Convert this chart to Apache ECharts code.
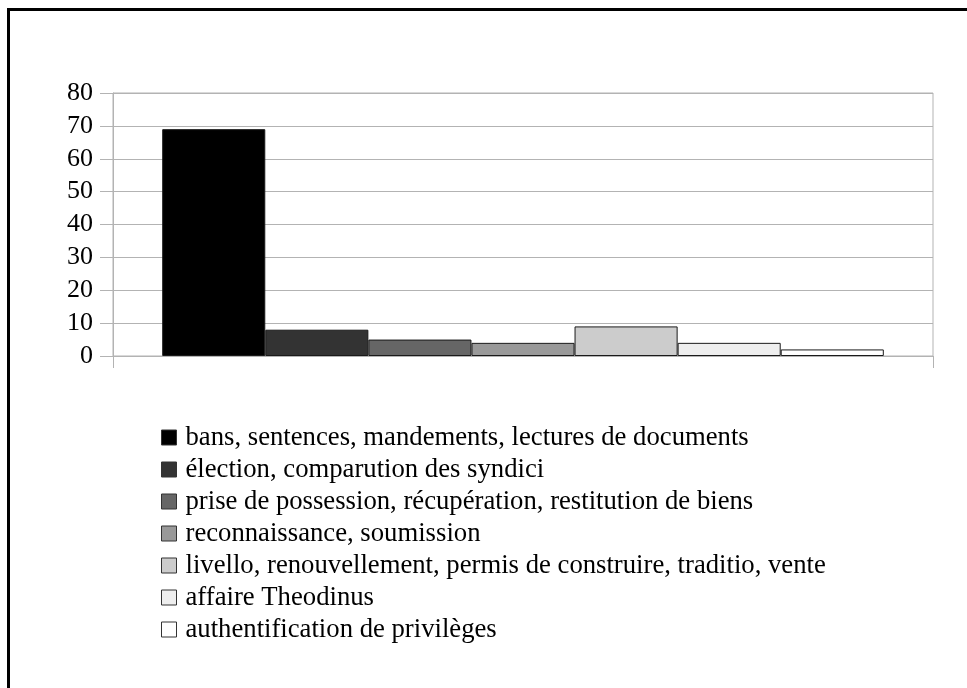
<!DOCTYPE html>
<html>
<head>
<meta charset="utf-8">
<script src="https://cdn.jsdelivr.net/npm/echarts@6/dist/echarts.min.js"></script>
<style>
  html, body { margin: 0; padding: 0; background: #fff; }
  #chart { width: 967px; height: 688px; }
</style>
</head>
<body>
<div id="chart"></div>
<script>
// Document types (one bar per type, single category group)
const seriesNames = [
  "bans, sentences, mandements, lectures de documents",
  "élection, comparution des syndici",
  "prise de possession, récupération, restitution de biens",
  "reconnaissance, soumission",
  "livello, renouvellement, permis de construire, traditio, vente",
  "affaire Theodinus",
  "authentification de privilèges"
];
const seriesValues = [69, 8, 5, 4, 9, 4, 2];
const seriesColors = ["#000000", "#333333", "#666666", "#999999", "#cccccc", "#eeeeee", "#ffffff"];
const categories = [""];
const yMin = 0, yMax = 80, yStep = 10;

const FONT = "'Liberation Serif', 'DejaVu Serif', serif";
const GRID_COLOR = "#b3b3b3";

const chart = echarts.init(document.getElementById("chart"), null, { renderer: "canvas" });

const series = seriesNames.map((name, i) => ({
  name: name,
  type: "bar",
  data: [seriesValues[i]],
  barGap: "0%",
  barCategoryGap: "12%",
  itemStyle: { color: seriesColors[i], borderColor: "#1a1a1a", borderWidth: 1 },
  emphasis: { disabled: true },
  animation: false
}));

chart.setOption({
  animation: false,
  backgroundColor: "#ffffff",
  grid: {
    left: 113, right: 34, top: 93, bottom: 332,
    show: true, borderColor: GRID_COLOR, borderWidth: 1, backgroundColor: "transparent"
  },
  xAxis: {
    type: "category",
    data: categories,
    boundaryGap: true,
    axisLine: { show: true, lineStyle: { color: GRID_COLOR, width: 1 } },
    axisTick: { show: true, length: 12, lineStyle: { color: GRID_COLOR } },
    axisLabel: { show: false },
    splitLine: { show: false }
  },
  yAxis: {
    type: "value",
    min: yMin, max: yMax, interval: yStep,
    axisLine: { show: true, lineStyle: { color: GRID_COLOR, width: 1 } },
    axisTick: { show: true, length: 13, lineStyle: { color: GRID_COLOR } },
    axisLabel: { color: "#000", fontFamily: FONT, fontSize: 26, margin: 20 },
    splitLine: { show: true, lineStyle: { color: GRID_COLOR, width: 1 } }
  },
  legend: {
    orient: "vertical",
    left: 161, top: 424,
    padding: 0,
    itemWidth: 15, itemHeight: 15, itemGap: 5,
    icon: "rect",
    selectedMode: false,
    textStyle: { color: "#000", fontFamily: FONT, fontSize: 26.7, lineHeight: 27, padding: [0, 0, 0, 4] },
    data: seriesNames.map((n, i) => ({
      name: n,
      itemStyle: { color: seriesColors[i], borderColor: "#333", borderWidth: 1 }
    }))
  },
  graphic: [{
    type: "rect",
    shape: { x: 8.5, y: 9.5, width: 1000, height: 700 },
    style: { fill: "none", stroke: "#000", lineWidth: 3 },
    silent: true
  }],
  series: series
});
</script>
</body>
</html>
